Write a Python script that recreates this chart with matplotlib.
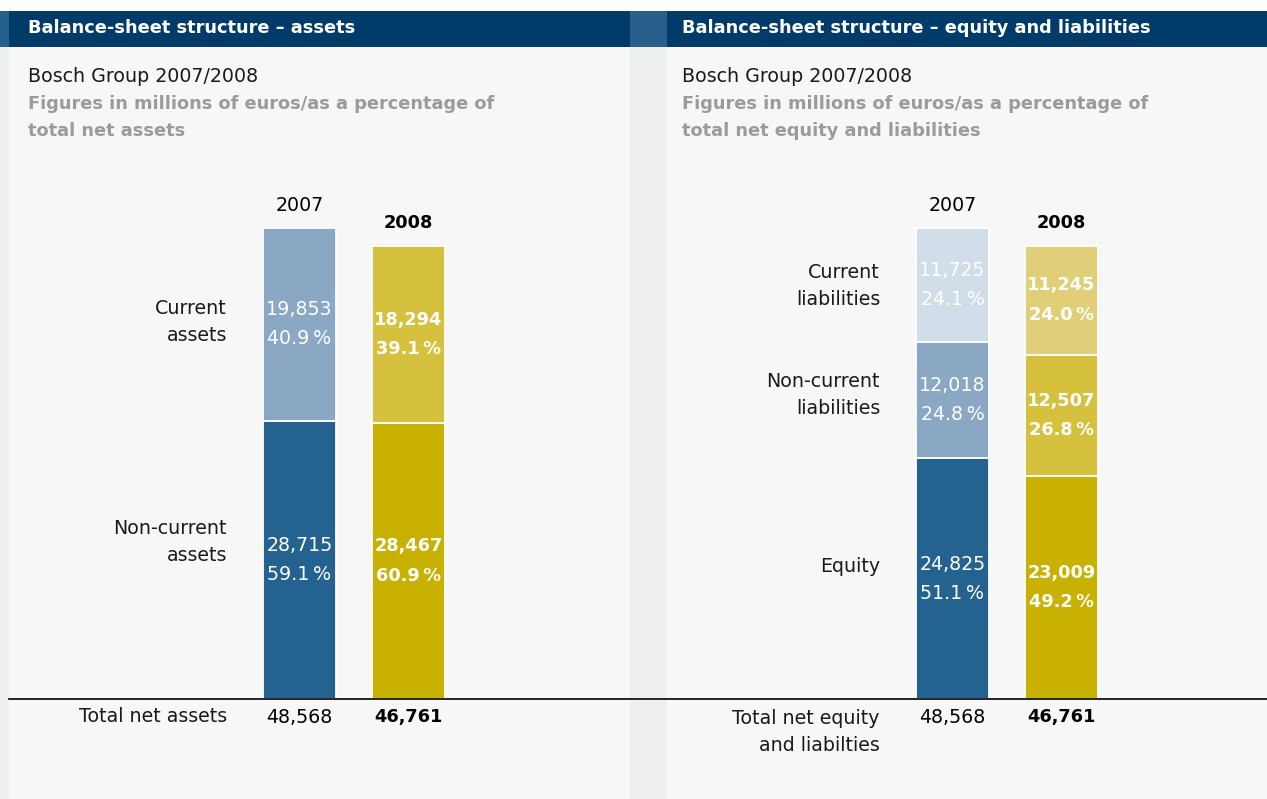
import matplotlib
matplotlib.use("Agg")
import matplotlib.pyplot as plt
from matplotlib.patches import Rectangle

plt.rcParams['font.family'] = ['DejaVu Sans']

# Bosch Group balance sheet, millions of euros
years = ["2007", "2008"]
asset_names = ["Non-current\nassets", "Current\nassets"]
assets = {"2007": [28715, 19853], "2008": [28467, 18294]}
assets_pct = {"2007": ["59.1", "40.9"], "2008": ["60.9", "39.1"]}
liab_names = ["Equity", "Non-current\nliabilities", "Current\nliabilities"]
liabs = {"2007": [24825, 12018, 11725], "2008": [23009, 12507, 11245]}
liabs_pct = {"2007": ["51.1", "24.8", "24.1"], "2008": ["49.2", "26.8", "24.0"]}
totals = {"2007": "48,568", "2008": "46,761"}

W, H = 1267, 799
NAVY = "#003b69"
STRIP = "#28608c"
PANEL = "#f7f7f7"
GUTTER = "#eef0f0"
GREY_TXT = "#9b9b9b"
colors = {
    "2007": ["#246390", "#8aa7c4", "#d1dde8"],
    "2008": ["#c8b100", "#d6c13e", "#e0cf78"],
}
FS = 13.7   # regular text
FB = 12.8   # bold text (DejaVu bold runs wide)

fig = plt.figure(figsize=(W / 100, H / 100), dpi=100)
fig.patch.set_facecolor("white")

# background in pixel coordinates
bg = fig.add_axes([0, 0, 1, 1], zorder=0)
bg.set_xlim(0, W)
bg.set_ylim(H, 0)
bg.axis("off")
for x0, x1, col in [(0, 9, GUTTER), (9, 630, PANEL), (630, 667, GUTTER), (667, W, PANEL)]:
    bg.add_patch(Rectangle((x0, 47), x1 - x0, H - 47, color=col, lw=0))
for x0, x1, col in [(0, 9, STRIP), (9, 630, NAVY), (630, 667, STRIP), (667, W, NAVY)]:
    bg.add_patch(Rectangle((x0, 11), x1 - x0, 36, color=col, lw=0))

top = fig.add_axes([0, 0, 1, 1], zorder=3)
top.set_xlim(0, W)
top.set_ylim(H, 0)
top.axis("off")
top.patch.set_alpha(0)

def header(x, title, sub1, sub2):
    top.text(x, 28, title, color="white", fontsize=FB, fontweight="bold", va="center")
    top.text(x, 76, "Bosch Group 2007/2008", color="#1a1a1a", fontsize=FS, va="center")
    top.text(x, 104, sub1, color=GREY_TXT, fontsize=FB, fontweight="bold", va="center")
    top.text(x, 131, sub2, color=GREY_TXT, fontsize=FB, fontweight="bold", va="center")

header(28, "Balance-sheet structure \u2013 assets",
       "Figures in millions of euros/as a percentage of", "total net assets")
header(682, "Balance-sheet structure \u2013 equity and liabilities",
       "Figures in millions of euros/as a percentage of", "total net equity and liabilities")

# baseline across both panels
top.plot([9, W], [699, 699], color="black", lw=1.2)

# category labels
label_x = {"left": 227, "right": 880}
for name, y in zip(asset_names, [542, 322]):
    top.text(label_x["left"], y, name, ha="right", va="center", fontsize=FS,
             color="#1a1a1a", linespacing=1.55)
for name, y in zip(liab_names, [567, 395, 286]):
    top.text(label_x["right"], y, name, ha="right", va="center", fontsize=FS,
             color="#1a1a1a", linespacing=1.55)
top.text(label_x["left"], 717, "Total net assets", ha="right", va="center",
         fontsize=FS, color="#1a1a1a")
top.text(label_x["right"], 732, "Total net equity\nand liabilties", ha="right",
         va="center", fontsize=FS, color="#1a1a1a", linespacing=1.55)

ymax = 539 * 48568 / 471
step = 109


def panel(x0, x1, c0, data, pct):
    ax = fig.add_axes([x0 / W, (H - 699) / H, (x1 - x0) / W, 539 / H], zorder=2)
    ax.patch.set_alpha(0)
    ax.set_xlim(-(c0 - x0) / step, (x1 - c0) / step)
    ax.set_ylim(0, ymax)
    ax.axis("off")
    for i, yr in enumerate(years):
        bold = "bold" if yr == "2008" else "normal"
        size = FB if yr == "2008" else FS
        bottom = 0
        for k, v in enumerate(data[yr]):
            ax.bar(i, v, bottom=bottom, width=73 / step, color=colors[yr][k],
                   edgecolor="white", linewidth=1.3)
            mid = bottom + v / 2
            ax.annotate(f"{v:,}", (i, mid), xytext=(0, 10.5), textcoords="offset points",
                        ha="center", va="center", color="white", fontsize=size,
                        fontweight=bold)
            ax.annotate(pct[yr][k] + "\u2009%", (i, mid), xytext=(0, -10.5),
                        textcoords="offset points", ha="center", va="center",
                        color="white", fontsize=size, fontweight=bold)
            bottom += v
        ax.annotate(yr, (i, bottom), xytext=(0, 16.5), textcoords="offset points",
                    ha="center", va="center", color="black", fontsize=size,
                    fontweight=bold)
        ax.annotate(totals[yr], (i, 0), xytext=(0, -13), textcoords="offset points",
                    ha="center", va="center", color="black", fontsize=size,
                    fontweight=bold, annotation_clip=False)
    return ax


panel(9, 630, 299.5, assets, assets_pct)
panel(667, W, 952.5, liabs, liabs_pct)

fig.savefig("out.png", dpi=100)
